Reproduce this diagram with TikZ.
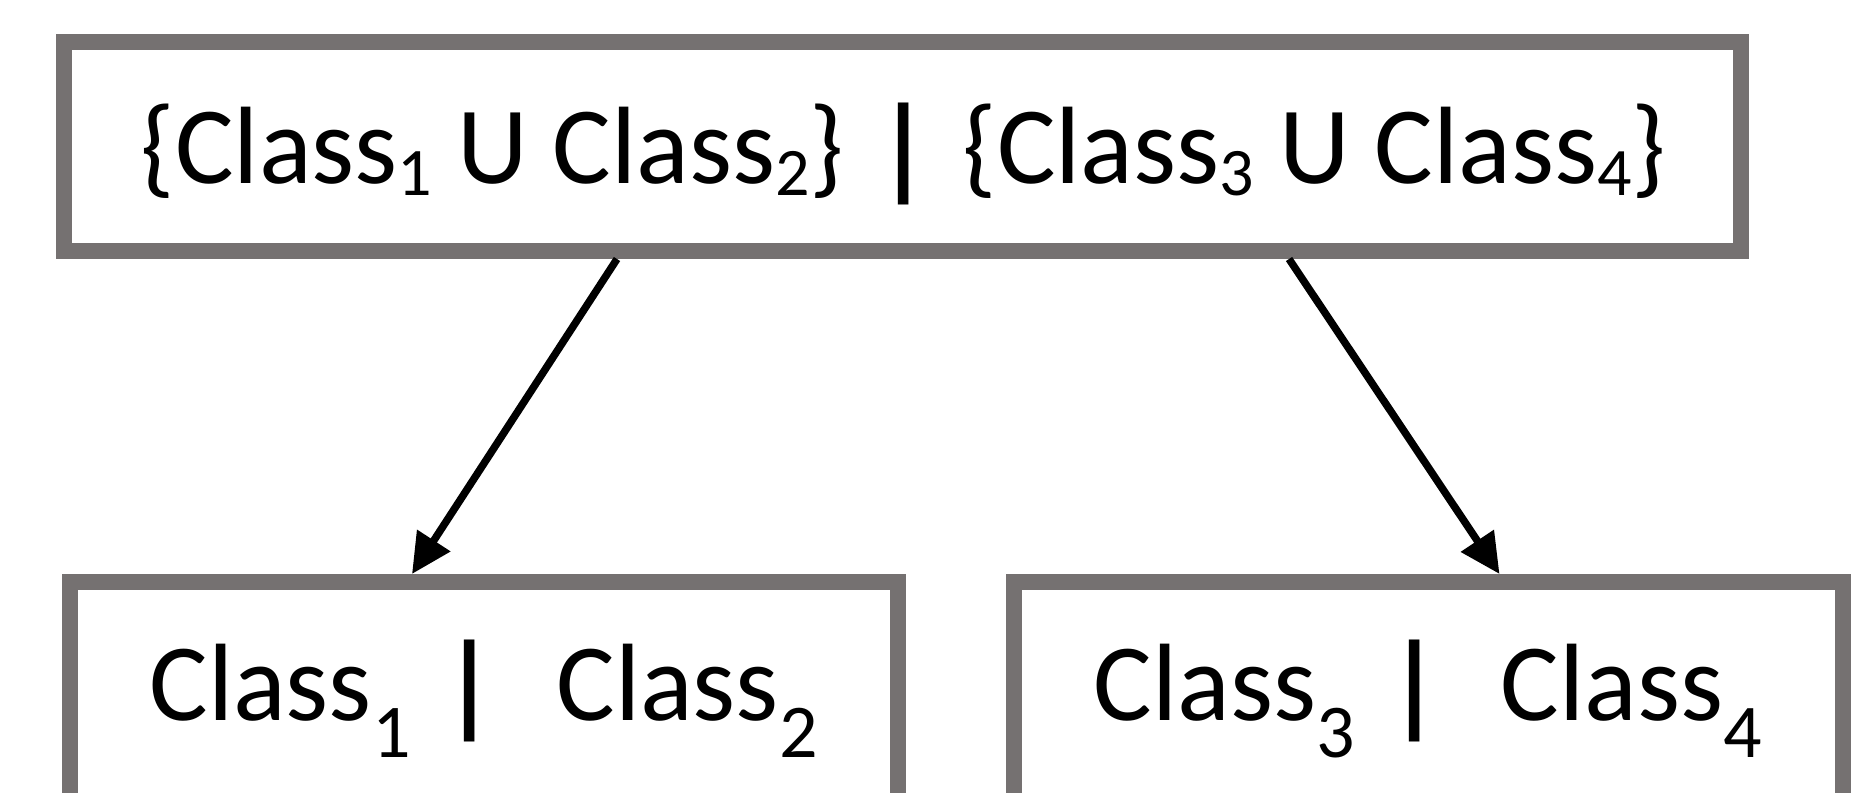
\documentclass[tikz,border=0pt]{standalone}
\usepackage{fontspec}
\setmainfont{Carlito}
\usetikzlibrary{arrows.meta}
\definecolor{boxgray}{HTML}{757171}
\newcommand\tsub[1]{\raisebox{-12pt}{\fontsize{68}{68}\selectfont #1}}
\newcommand\bsub[1]{\raisebox{-37pt}{\fontsize{76}{76}\selectfont #1}}
\newsavebox\barbox
\newcommand\vbar{\sbox\barbox{\resizebox*{\width}{102pt}{\textbf{|}}}\raisebox{\dimexpr\dp\barbox-22pt\relax}{\usebox\barbox}}
\begin{document}
\begin{tikzpicture}[x=1pt,y=-1pt,
  box/.style={draw=boxgray, line width=16pt, fill=white, inner sep=0pt, rectangle},
  lbl/.style={inner sep=0pt, font=\fontsize{110}{130}\selectfont, anchor=base},
  arr/.style={draw=black, line width=7.5pt, -{Triangle[length=40pt,width=38pt]}}]
\useasboundingbox (0,0) rectangle (1859,792);
\fill[white] (0,0) rectangle (1859,792);
\clip (0,0) rectangle (1859,792);
\node[box, minimum width=1677pt, minimum height=209pt] (top) at (902.5,146.5) {};
\node[box, minimum width=828pt, minimum height=340pt] (bl) at (484,752) {};
\node[box, minimum width=829pt, minimum height=340pt] (br) at (1428.5,752) {};
\node[lbl] (ttop) at (903.5,183) {\{Class\tsub{1} U Class\tsub{2}\}\hspace{0.3em}\vbar\hspace{0.3em}\{Class\tsub{3} U Class\tsub{4}\}};
\node[lbl] (tbl) at (483.5,720) {Class\bsub{1}\hspace{0.3em}\vbar\hspace{0.55em}Class\bsub{2}};
\node[lbl] (tbr) at (1428,720) {Class\bsub{3}\hspace{0.3em}\vbar\hspace{0.55em}Class\bsub{4}};
\draw[arr] ([xshift=-285.5pt]top.south) -- ([xshift=-72pt]bl.north);
\draw[arr] ([xshift=386.5pt]top.south) -- ([xshift=71pt]br.north);
\end{tikzpicture}
\end{document}
